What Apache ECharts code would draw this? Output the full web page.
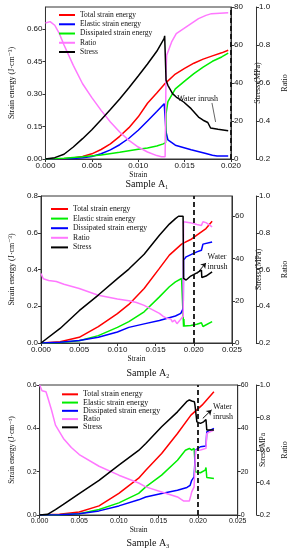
<!DOCTYPE html>
<html><head><meta charset="utf-8">
<script src="https://cdn.jsdelivr.net/npm/echarts@6/dist/echarts.min.js"></script>
<style>html,body{margin:0;padding:0;background:#fff}#c{width:297px;height:550px}</style>
</head><body><div id="c"></div>
<script>
// ---------- Sample A1 ----------
const totalA1 = [[0,0],[0.002,0.0015],[0.003,0.005],[0.004,0.012],[0.005,0.024],[0.006,0.044],[0.007,0.07],[0.008,0.105],[0.009,0.145],[0.010,0.195],[0.011,0.258],[0.012,0.305],[0.0128,0.345],[0.014,0.393],[0.015,0.419],[0.016,0.443],[0.017,0.462],[0.018,0.477],[0.019,0.491],[0.0197,0.503]];
const elasticA1 = [[0,0],[0.003,0.002],[0.004,0.006],[0.005,0.012],[0.006,0.024],[0.007,0.042],[0.008,0.066],[0.009,0.096],[0.010,0.133],[0.011,0.176],[0.012,0.22],[0.0128,0.256],[0.01285,0.263],[0.0130,0.125],[0.0132,0.088],[0.014,0.064],[0.0157,0.043],[0.0173,0.025],[0.018,0.017],[0.0185,0.014],[0.0197,0.014]];
const dissipatedA1 = [[0,0],[0.002,0.003],[0.004,0.01],[0.006,0.019],[0.008,0.031],[0.009,0.038],[0.010,0.045],[0.011,0.051],[0.012,0.06],[0.0127,0.07],[0.01295,0.075],[0.0130,0.21],[0.0132,0.265],[0.014,0.324],[0.015,0.36],[0.016,0.395],[0.017,0.425],[0.018,0.452],[0.019,0.472],[0.0197,0.49]];
const ratioA1 = [[0,0.916],[0.0005,0.923],[0.001,0.904],[0.0015,0.86],[0.002,0.80],[0.003,0.693],[0.004,0.596],[0.005,0.523],[0.006,0.456],[0.007,0.395],[0.008,0.342],[0.009,0.298],[0.010,0.263],[0.011,0.237],[0.012,0.218],[0.0125,0.212],[0.0129,0.212],[0.0130,0.66],[0.01307,0.746],[0.0136,0.816],[0.0141,0.86],[0.0149,0.886],[0.0157,0.913],[0.0165,0.939],[0.0173,0.956],[0.0179,0.965],[0.0197,0.97]];
const stressA1 = [[0,0],[0.001,0.7],[0.002,2.5],[0.003,6.3],[0.004,10.7],[0.005,15.4],[0.006,20.7],[0.007,26],[0.008,31.6],[0.009,37.5],[0.010,43.7],[0.011,50],[0.012,56.7],[0.0128,63.5],[0.01285,64.8],[0.0130,41.4],[0.0132,38.8],[0.0137,34.4],[0.0141,32.6],[0.0149,30],[0.0157,26.5],[0.0165,22.1],[0.0170,20.4],[0.0175,19.2],[0.0178,16.3],[0.0186,15.6],[0.0197,14.9]];
const inrushA1 = 0.0185;

// ---------- Sample A2 ----------
const totalA2 = [[0,0],[0.0025,0.007],[0.005,0.031],[0.0075,0.089],[0.010,0.16],[0.0115,0.21],[0.0135,0.297],[0.0155,0.406],[0.0168,0.478],[0.0184,0.538],[0.0187,0.545],[0.0196,0.563],[0.0204,0.587],[0.0216,0.623],[0.0224,0.663]];
const elasticA2 = [[0,0],[0.0025,0.003],[0.005,0.012],[0.0075,0.04],[0.010,0.085],[0.0115,0.116],[0.0135,0.17],[0.0155,0.251],[0.0168,0.306],[0.0176,0.333],[0.0184,0.351],[0.01862,0.352],[0.01866,0.089],[0.0187,0.13],[0.01875,0.092],[0.0196,0.095],[0.0204,0.102],[0.0210,0.11],[0.0212,0.09],[0.0224,0.116]];
const dissipatedA2 = [[0,0],[0.0025,0.004],[0.005,0.013],[0.0075,0.031],[0.010,0.06],[0.0115,0.085],[0.0135,0.104],[0.0155,0.122],[0.0176,0.147],[0.0183,0.161],[0.01862,0.188],[0.01866,0.451],[0.019,0.469],[0.0204,0.496],[0.0210,0.505],[0.0212,0.538],[0.0224,0.55]];
const ratioA2 = [[0,0.578],[0.0003,0.55],[0.001,0.54],[0.002,0.535],[0.003,0.52],[0.005,0.497],[0.0075,0.46],[0.010,0.44],[0.0115,0.43],[0.0125,0.42],[0.0135,0.405],[0.0155,0.361],[0.016,0.345],[0.0165,0.334],[0.017,0.33],[0.0172,0.315],[0.0175,0.325],[0.0178,0.305],[0.018,0.315],[0.0183,0.33],[0.01862,0.345],[0.01866,0.86],[0.0195,0.855],[0.0204,0.845],[0.0210,0.84],[0.0212,0.86],[0.0216,0.855],[0.0224,0.832]];
const stressA2 = [[0,0],[0.0025,6.9],[0.005,15.3],[0.0075,22.7],[0.010,30.5],[0.0115,35],[0.0135,42],[0.0155,51],[0.0168,56.3],[0.0176,58.9],[0.018,60],[0.0186,60],[0.01866,30.6],[0.019,29.8],[0.0196,31.7],[0.0204,33.2],[0.0210,34.5],[0.02105,31],[0.0216,31.7],[0.0224,33.7]];
const inrushA2 = 0.0202;

// ---------- Sample A3 ----------
const totalA3 = [[0,0],[0.0025,0.003],[0.005,0.014],[0.0075,0.042],[0.010,0.10],[0.0125,0.17],[0.0134,0.207],[0.0154,0.284],[0.0174,0.376],[0.0191,0.461],[0.0205,0.507],[0.022,0.569]];
const elasticA3 = [[0,0],[0.0025,0.001],[0.005,0.006],[0.0075,0.025],[0.010,0.056],[0.0125,0.10],[0.0134,0.13],[0.0154,0.184],[0.0174,0.253],[0.0184,0.299],[0.0189,0.307],[0.0192,0.30],[0.0195,0.307],[0.01962,0.298],[0.01968,0.199],[0.0203,0.195],[0.0209,0.207],[0.0210,0.219],[0.0211,0.173],[0.022,0.168]];
const dissipatedA3 = [[0,0],[0.0025,0.001],[0.005,0.006],[0.0075,0.019],[0.010,0.042],[0.0125,0.07],[0.0134,0.083],[0.0154,0.099],[0.0174,0.114],[0.0186,0.127],[0.0190,0.137],[0.0192,0.16],[0.0195,0.176],[0.01968,0.299],[0.0203,0.315],[0.0210,0.318],[0.0211,0.384],[0.022,0.40]];
const ratioA3 = [[0,1.0],[0.0003,0.965],[0.0008,0.959],[0.001,0.928],[0.0015,0.846],[0.002,0.753],[0.003,0.671],[0.004,0.615],[0.005,0.572],[0.0075,0.50],[0.010,0.445],[0.0125,0.397],[0.0134,0.373],[0.0154,0.342],[0.0174,0.311],[0.0182,0.286],[0.0189,0.286],[0.0191,0.322],[0.0192,0.342],[0.0195,0.373],[0.01968,0.599],[0.0203,0.60],[0.0210,0.61],[0.0211,0.702],[0.022,0.722]];
const stressA3 = [[0,0],[0.001,0.3],[0.002,2.5],[0.003,4.9],[0.005,9.9],[0.0075,16],[0.010,23],[0.0125,29.8],[0.0134,33],[0.0154,40.7],[0.0174,47.6],[0.01855,52.3],[0.0189,53.1],[0.0192,52.6],[0.01953,52.3],[0.0196,51],[0.01985,43],[0.0203,42.3],[0.0207,43],[0.0210,44.1],[0.0211,39.2],[0.022,39.2]];
const inrushA3 = 0.0205;

const legendNames = ['Total strain energy','Elastic strain energy','Dissipated strain energy','Ratio','Stress'];
const sampleTitles = ['Sample A\u2081','Sample A\u2082','Sample A\u2083'];

const SANS = "'Liberation Sans', Arial, sans-serif";
const SERIF = "'Liberation Serif', 'Times New Roman', 'DejaVu Serif', serif";
const RED='#ff0000', BLUE='#0000ff', GREEN='#00ee00', PINK='#ff77ff', BLACK='#000000';
const AX = '#333';

const chart = echarts.init(document.getElementById('c'), null, {renderer:'canvas'});

function yAxis(gi, opt){
  return {
    type:'value', gridIndex:gi, position:opt.pos, offset:opt.offset||0,
    min:opt.min, max:opt.max, interval:opt.interval,
    axisLine:{show:true, onZero:false, lineStyle:{color:AX, width:1}},
    axisTick:{show:true, length:3, lineStyle:{color:AX}},
    axisLabel:{fontSize:opt.fs, color:'#111', fontFamily:SANS, margin:3, showMaxLabel:opt.showMax, showMinLabel:true, formatter:v=>v.toFixed(opt.dec)},
    splitLine:{show:false},
    name:opt.name, nameLocation:'middle', nameGap:opt.gap, nameRotate:90,
    nameTextStyle:{fontFamily:SERIF, fontSize:opt.nfs||8, color:'#111'}
  };
}
function xAxis(gi, max, fs, gap){
  return {
    type:'value', gridIndex:gi, min:0, max:max, interval:0.005,
    axisLine:{show:true, onZero:false, lineStyle:{color:AX}},
    axisTick:{show:true, length:3, lineStyle:{color:AX}},
    axisLabel:{fontSize:fs, color:'#111', fontFamily:SANS, margin:3, formatter:v=>v.toFixed(3)},
    splitLine:{show:false},
    name:'Strain', nameLocation:'middle', nameGap:gap,
    nameTextStyle:{fontFamily:SERIF, fontSize:7.5, color:'#111'}
  };
}
function line(name, data, color, xi, yi, extra){
  return Object.assign({
    type:'line', name:name, data:data, xAxisIndex:xi, yAxisIndex:yi,
    showSymbol:false, symbol:'none', smooth:false, silent:true, animation:false,
    lineStyle:{color:color, width:1.5}, itemStyle:{color:color}
  }, extra||{});
}
function marks(xi, inrushX, label, ptr, arrow){
  return {
    markLine:{silent:true, symbol:'none', animation:false, label:{show:false},
      data:[
        {xAxis:inrushX, lineStyle:{type:[5,3], width:1.8, color:'#111'}},
        [{coord:ptr[0], symbol:'none'},{coord:ptr[1], symbol:arrow?'arrow':'none', symbolSize:arrow?5:0, lineStyle:{type:'solid', width:1, color:arrow?'#111':'#666'}}]
      ]},
    markPoint:{silent:true, animation:false, symbol:'circle', symbolSize:0,
      data:[{coord:label.coord, label:{show:true, formatter:label.text, fontFamily:SERIF, fontSize:8, color:'#111', align:label.align, lineHeight:10}}]}
  };
}
function legend(k, left, top, iw, lh, fs){
  const suffix = '#'+k;
  return {
    orient:'vertical', left:left, top:top, padding:0, itemGap:0,
    itemWidth:iw, itemHeight:2, icon:'rect', selectedMode:false,
    data: legendNames.map(n=>n+suffix),
    formatter: n=>n.split('#')[0],
    textStyle:{fontFamily:SERIF, fontSize:fs, color:'#111', lineHeight:lh}
  };
}

const option = {
  animation:false,
  backgroundColor:'#fff',
  grid:[
    {left:36, top:7, width:205, height:152, show:true, borderColor:AX, borderWidth:1, backgroundColor:'transparent'},
    {left:36, top:196, width:205, height:147, show:true, borderColor:AX, borderWidth:1, backgroundColor:'transparent'},
    {left:36, top:385, width:212, height:130, show:true, borderColor:AX, borderWidth:1, backgroundColor:'transparent'}
  ],
  xAxis:[ xAxis(0,0.020,8,11), xAxis(1,0.025,8,9.5), xAxis(2,0.025,7,11) ],
  yAxis:[
    yAxis(0,{pos:'left', min:0, max:0.703, interval:0.15, dec:2, fs:8, showMax:false, name:'Strain energy (J\u00b7cm\u207b\u00b3)', gap:23}),
    yAxis(0,{pos:'right', min:0, max:80, interval:20, dec:0, fs:8, showMax:true, name:'Stress (MPa)', gap:14}),
    yAxis(0,{pos:'right', offset:25, min:0.2, max:1.0, interval:0.2, dec:1, fs:8, showMax:true, name:'Ratio', gap:16}),
    yAxis(1,{pos:'left', min:0, max:0.8, interval:0.2, dec:1, fs:8, showMax:true, name:'Strain energy (J\u00b7cm\u207b\u00b3)', gap:17}),
    yAxis(1,{pos:'right', min:0, max:69.6, interval:20, dec:0, fs:8, showMax:false, name:'Stress (MPa)', gap:15}),
    yAxis(1,{pos:'right', offset:24, min:0.2, max:1.0, interval:0.2, dec:1, fs:8, showMax:true, name:'Ratio', gap:18}),
    yAxis(2,{pos:'left', min:0, max:0.6, interval:0.2, dec:1, fs:7, showMax:true, name:'Strain energy (J\u00b7cm\u207b\u00b3)', gap:17, nfs:7.5}),
    yAxis(2,{pos:'right', min:0, max:60, interval:20, dec:0, fs:7, showMax:true, name:'Stress/MPa', gap:11, nfs:7.5}),
    yAxis(2,{pos:'right', offset:19, min:0.2, max:1.0, interval:0.2, dec:1, fs:7.5, showMax:true, name:'Ratio', gap:18})
  ],
  legend:[ legend(1,59,10.4,16,9.25,7.5), legend(2,51,204.2,17,9.6,7.7), legend(3,62,390.2,16,8.25,8) ],
  graphic:[
    {type:'text', x:147, y:184, style:{text:sampleTitles[0], fontFamily:SERIF, fontSize:10, fill:'#111', textAlign:'center', textVerticalAlign:'middle'}},
    {type:'text', x:148, y:373, style:{text:sampleTitles[1], fontFamily:SERIF, fontSize:10, fill:'#111', textAlign:'center', textVerticalAlign:'middle'}},
    {type:'text', x:148, y:543, style:{text:sampleTitles[2], fontFamily:SERIF, fontSize:10, fill:'#111', textAlign:'center', textVerticalAlign:'middle'}}
  ],
  series:[
    line('Total strain energy#1', totalA1, RED, 0, 0),
    line('Elastic strain energy#1', elasticA1, BLUE, 0, 0),
    line('Dissipated strain energy#1', dissipatedA1, GREEN, 0, 0),
    line('Ratio#1', ratioA1, PINK, 0, 2),
    line('Stress#1', stressA1, BLACK, 0, 1, marks(0, inrushA1, {coord:[0.0164,31.4], text:'Water inrush', align:'center'}, [[0.01795,29.5],[0.01834,19.5]], false)),

    line('Total strain energy#2', totalA2, RED, 1, 3),
    line('Elastic strain energy#2', elasticA2, GREEN, 1, 3),
    line('Dissipated strain energy#2', dissipatedA2, BLUE, 1, 3),
    line('Ratio#2', ratioA2, PINK, 1, 5),
    line('Stress#2', stressA2, BLACK, 1, 4, marks(1, inrushA2, {coord:[0.0218,38.4], text:'Water\ninrush', align:'left'}, [[0.02037,32.7],[0.02159,37.9]], true)),

    line('Total strain energy#3', totalA3, RED, 2, 6),
    line('Elastic strain energy#3', elasticA3, GREEN, 2, 6),
    line('Dissipated strain energy#3', dissipatedA3, BLUE, 2, 6),
    line('Ratio#3', ratioA3, PINK, 2, 8),
    line('Stress#3', stressA3, BLACK, 2, 7, marks(2, inrushA3, {coord:[0.0219,47.8], text:'Water\ninrush', align:'left'}, [[0.0206,44.6],[0.0217,48.5]], true))
  ]
};
chart.setOption(option);
</script></body></html>
